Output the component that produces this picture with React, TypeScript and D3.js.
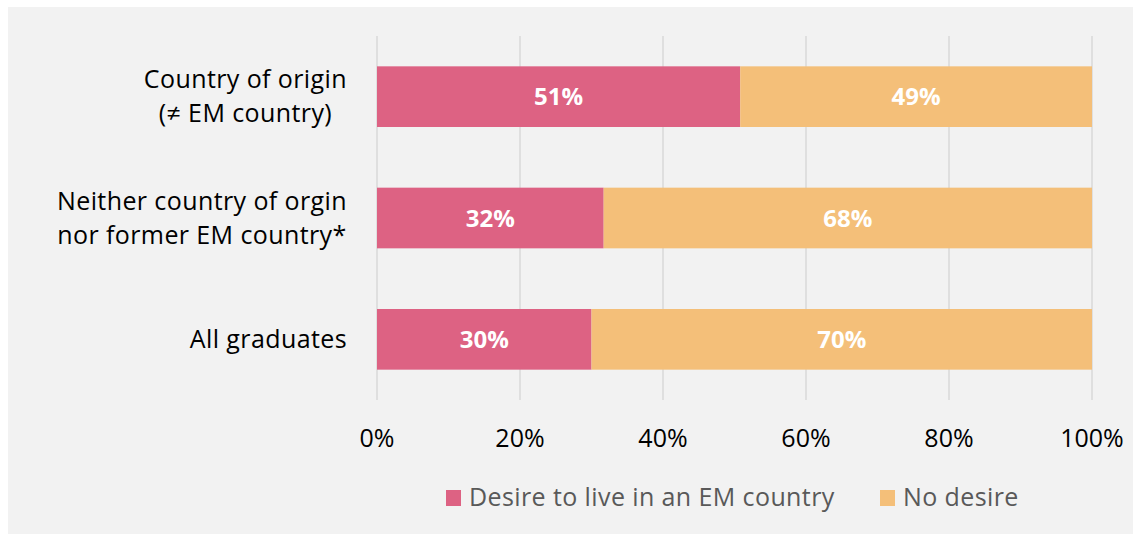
import React, { useEffect, useRef } from "react";
import * as d3 from "d3";

const categories = [
  ["Country of origin", "(≠ EM country)"],
  ["Neither country of orgin", "nor former EM country*"],
  ["All graduates"],
];
const desireValues = [50.8, 31.7, 30.0];
const noDesireValues = [49.2, 68.3, 70.0];
const desireLabels = ["51%", "32%", "30%"];
const noDesireLabels = ["49%", "68%", "70%"];
const tickValues = [0, 20, 40, 60, 80, 100];
const seriesNames = ["Desire to live in an EM country", "No desire"];

const W = 1133;
const H = 534;
const PINK = "#dd6283";
const ORANGE = "#f4bf79";
const FONT = "'Open Sans', Lato, sans-serif";

export default function App() {
  const ref = useRef<SVGSVGElement>(null);

  useEffect(() => {
    const svg = d3.select(ref.current);
    svg.selectAll("*").remove();

    svg.append("rect").attr("x", 8).attr("y", 7).attr("width", W - 8).attr("height", H - 7).attr("fill", "#f2f2f2");

    const x = d3.scaleLinear().domain([0, 100]).range([377, 1092]);
    const ids = categories.map((_, i) => String(i));
    const y = d3.scaleBand().domain(ids).range([36, 400]).paddingInner(0.5).paddingOuter(0.25);

    // gridlines
    svg.append("g").selectAll("line").data(tickValues).join("line")
      .attr("x1", (d) => x(d)).attr("x2", (d) => x(d))
      .attr("y1", 36).attr("y2", 400)
      .attr("stroke", "#d9d9d9").attr("stroke-width", 1.5);

    // tick labels
    svg.append("g").selectAll("text").data(tickValues).join("text")
      .attr("x", (d) => x(d)).attr("y", 447)
      .attr("text-anchor", "middle")
      .attr("font-family", FONT).attr("font-size", 25).attr("fill", "#000")
      .text((d) => d + "%");

    // bars
    const bars = svg.append("g");
    ids.forEach((id, i) => {
      const y0 = y(id)!;
      const bw = y.bandwidth();
      bars.append("rect").attr("x", x(0)).attr("y", y0).attr("width", x(desireValues[i]) - x(0)).attr("height", bw).attr("fill", PINK);
      bars.append("rect").attr("x", x(desireValues[i])).attr("y", y0).attr("width", x(desireValues[i] + noDesireValues[i]) - x(desireValues[i])).attr("height", bw).attr("fill", ORANGE);
      bars.append("text")
        .attr("x", (x(0) + x(desireValues[i])) / 2).attr("y", y0 + bw / 2).attr("dy", "0.36em")
        .attr("text-anchor", "middle").attr("font-family", FONT).attr("font-weight", 700).attr("font-size", 24).attr("fill", "#fff")
        .text(desireLabels[i]);
      bars.append("text")
        .attr("x", (x(desireValues[i]) + x(desireValues[i] + noDesireValues[i])) / 2).attr("y", y0 + bw / 2).attr("dy", "0.36em")
        .attr("text-anchor", "middle").attr("font-family", FONT).attr("font-weight", 700).attr("font-size", 24).attr("fill", "#fff")
        .text(noDesireLabels[i]);

      // category label
      const g = svg.append("g");
      const lines = categories[i];
      const lh = 34;
      const cy = y0 + bw / 2;
      const t = g.append("text").attr("font-family", FONT).attr("font-size", 25).attr("letter-spacing", 0.4).attr("fill", "#000").attr("text-anchor", "middle");
      lines.forEach((ln, k) => {
        t.append("tspan").attr("x", 0).attr("y", cy + (k - (lines.length - 1) / 2) * lh).attr("dy", "0.34em").text(ln);
      });
      const bb = (t.node() as SVGTextElement).getBBox();
      g.attr("transform", `translate(${347 - bb.width / 2},0)`);
    });

    // legend
    const lg = svg.append("g");
    const items = [
      { name: seriesNames[0], color: PINK, x: 446 },
      { name: seriesNames[1], color: ORANGE, x: 880 },
    ];
    items.forEach((it) => {
      lg.append("rect").attr("x", it.x).attr("y", 490).attr("width", 15).attr("height", 16).attr("fill", it.color);
      lg.append("text").attr("x", it.x + 23).attr("y", 506)
        .attr("font-family", FONT).attr("font-size", 25).attr("letter-spacing", 0.4).attr("fill", "#595959").text(it.name);
    });
  }, []);

  return (
    <svg ref={ref} width={W} height={H} style={{ position: "absolute", left: 0, top: 0, display: "block" }} />
  );
}
